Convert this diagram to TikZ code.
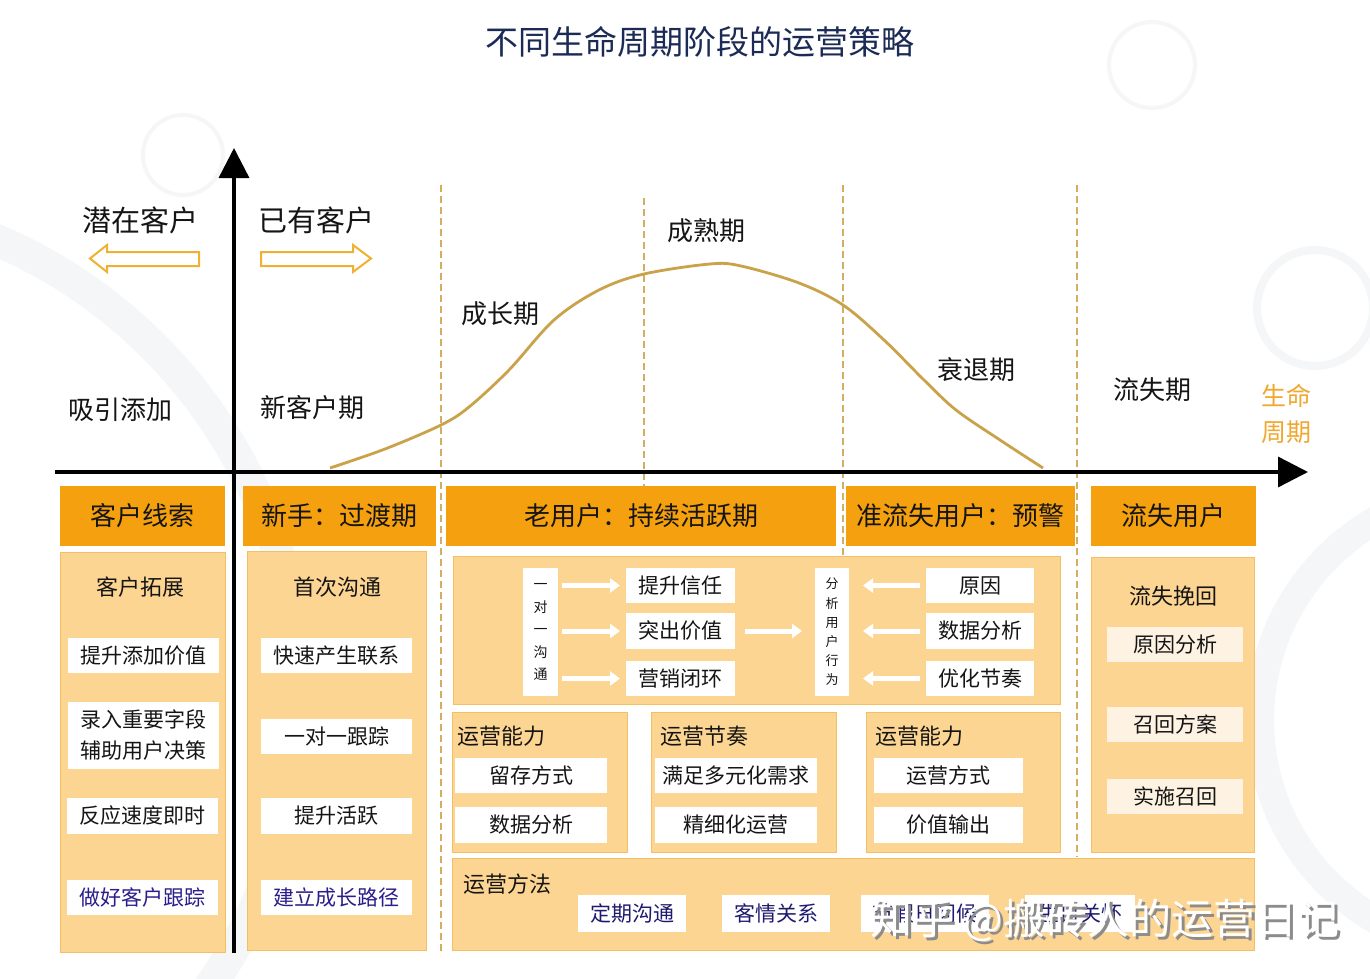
\documentclass[tikz,border=0pt]{standalone}
\usepackage{fontspec}
\setmainfont{Noto Sans CJK SC}
\usetikzlibrary{arrows.meta}
\definecolor{hdr}{HTML}{F4A00F}
\definecolor{bodyc}{HTML}{FDD592}
\definecolor{bodyline}{HTML}{F2C063}
\definecolor{gold}{HTML}{C9A24A}
\definecolor{dashc}{HTML}{D2AE62}
\definecolor{navy}{HTML}{1B2B55}
\definecolor{ink}{HTML}{2B1E8C}
\definecolor{inktwo}{HTML}{1E1A6E}
\definecolor{orangetxt}{HTML}{F0A830}
\definecolor{hollow}{HTML}{F0B030}
\definecolor{pale}{HTML}{FEF3E2}
\definecolor{ring}{HTML}{F4F6F8}
\definecolor{txt}{HTML}{151515}
\newcommand\rbox[7]{\node[#6, minimum width={(#4-#2)*0.5pt}, minimum height={(#5-#3)*0.5pt}] (#1) at ({(#2+#4)/2},{(#3+#5)/2}) {#7};}
\tikzset{
  hdrbox/.style={fill=hdr, inner sep=0pt, outer sep=0pt, text=txt, font=\fontsize{13}{15}\selectfont},
  bodybox/.style={fill=bodyc, draw=bodyline, line width=0.5pt, inner sep=0pt, outer sep=0pt},
  item/.style={fill=white, inner sep=0pt, outer sep=0pt, text=txt, align=center, font=\fontsize{10.5}{15.5}\selectfont},
  palebox/.style={fill=pale, inner sep=0pt, outer sep=0pt, text=txt, align=center, font=\fontsize{10.5}{15.5}\selectfont},
  lbl/.style={inner sep=0pt, text=txt, font=\fontsize{13}{15}\selectfont},
  biglbl/.style={inner sep=0pt, text=txt, font=\fontsize{14.5}{17}\selectfont},
  sublbl/.style={inner sep=0pt, text=txt, font=\fontsize{11}{13}\selectfont},
  warr/.style={draw=white, line width=2.5pt, -{Triangle[length=5pt,width=7pt]}},
  axis/.style={line width=1.7pt, -{Triangle[length=15pt,width=15pt]}},
  dline/.style={dashc, line width=0.6pt, dash pattern=on 3.5pt off 2pt},
  hol/.style={draw=hollow, line width=1pt, line join=miter}
}
\begin{document}
\begin{tikzpicture}[x=0.5pt,y=-0.5pt]
\useasboundingbox (0,0) rectangle (1370,979);
\fill[white] (0,0) rectangle (1370,979);
\begin{scope}
\clip (0,0) rectangle (1370,979);
\draw[ring, line width=16pt] (-200,700) circle (500);
\draw[ring, line width=2pt] (183,155) circle (40);
\draw[ring, line width=2pt] (1152,65) circle (43);
\draw[ring, line width=4pt] (1315,308) circle (58);
\draw[ring, line width=14pt] (1490,720) circle (230);
\end{scope}

% title
\node[inner sep=0pt, text=navy, font=\fontsize{16.5}{19}\selectfont] (title) at (700,42) {不同生命周期阶段的运营策略};

% dashed phase lines
\draw[dline] (441,185) -- (441,955);
\draw[dline] (644,198) -- (644,486);
\draw[dline] (843,185) -- (843,556);
\draw[dline] (1077,185) -- (1077,857);

% curve
\draw[gold, line width=1.4pt] plot[smooth, tension=0.55] coordinates {(330,468) (385,449) (441,425) (469,407) (509,370) (554,320) (599,290) (644,274) (710,264) (741,266) (799,283) (843,305) (884,340) (924,380) (956,410) (1000,440) (1043,468)};

% axes
\draw[axis] (234,953) -- (234,148);
\draw[axis] (55,472) -- (1308,472);

% top labels
\node[biglbl] (qz) at (140,220) {潜在客户};
\node[biglbl] (yy) at (316,220) {已有客户};
\draw[hol] (90,258.5) -- (107,245) -- (107,252) -- (199,252) -- (199,266) -- (107,266) -- (107,272) -- cycle;
\draw[hol] (371,258.5) -- (353,245) -- (353,252) -- (261,252) -- (261,266) -- (353,266) -- (353,272) -- cycle;
\node[lbl] (xy) at (120,410) {吸引添加};
\node[lbl] (xk) at (312,408) {新客户期};
\node[lbl] (cz) at (500,314) {成长期};
\node[lbl] (cs) at (706,231) {成熟期};
\node[lbl] (st) at (976,370) {衰退期};
\node[lbl] (ls) at (1152,390) {流失期};
\node[inner sep=0pt, text=orangetxt, align=center, font=\fontsize{12.5}{18}\selectfont] (smzq) at (1286,414) {生命\\周期};

% headers
\rbox{c1h}{60}{486}{225}{546}{hdrbox}{客户线索}
\rbox{c2h}{243}{486}{436}{546}{hdrbox}{新手：过渡期}
\rbox{c3h}{446}{486}{836}{546}{hdrbox}{老用户：持续活跃期}
\rbox{c4h}{846}{486}{1075}{546}{hdrbox}{准流失用户：预警}
\rbox{c5h}{1091}{486}{1256}{546}{hdrbox}{流失用户}

% column 1
\rbox{c1b}{60}{552}{225}{952}{bodybox}{}
\node[sublbl] (c1t) at (140,587) {客户拓展};
\rbox{c1i1}{68}{638}{219}{673}{item}{提升添加价值}
\rbox{c1i2}{68}{702}{219}{769}{item}{录入重要字段\\辅助用户决策}
\rbox{c1i3}{67}{798}{218}{834}{item}{反应速度即时}
\rbox{c1i4}{67}{880}{218}{915}{item,text=ink}{做好客户跟踪}

% column 2
\rbox{c2b}{247}{551}{426}{950}{bodybox}{}
\node[sublbl] (c2t) at (337,587) {首次沟通};
\rbox{c2i1}{261}{638}{412}{673}{item}{快速产生联系}
\rbox{c2i2}{261}{719}{412}{754}{item}{一对一跟踪}
\rbox{c2i3}{261}{798}{412}{834}{item}{提升活跃}
\rbox{c2i4}{261}{880}{412}{915}{item,text=ink}{建立成长路径}

% top panel of active users
\rbox{tp}{453}{556}{1060}{704}{bodybox}{}
\rbox{v1}{523}{568}{558}{696}{item,font=\fontsize{7}{11.25}\selectfont}{一\\对\\一\\沟\\通}
\rbox{t1}{626}{568}{735}{603}{item}{提升信任}
\rbox{t2}{626}{613}{735}{649}{item}{突出价值}
\rbox{t3}{626}{661}{735}{696}{item}{营销闭环}
\rbox{an}{815}{568}{849}{696}{item,font=\fontsize{6.5}{9.6}\selectfont}{分\\析\\用\\户\\行\\为}
\rbox{r1}{926}{568}{1034}{603}{item}{原因}
\rbox{r2}{926}{613}{1034}{649}{item}{数据分析}
\rbox{r3}{926}{661}{1034}{696}{item}{优化节奏}
\draw[warr] ([xshift=2pt]v1.east |- t1.west) -- ([xshift=-3pt]t1.west);
\draw[warr] ([xshift=2pt]v1.east |- t2.west) -- ([xshift=-3pt]t2.west);
\draw[warr] ([xshift=2pt]v1.east |- t3.west) -- ([xshift=-3pt]t3.west);
\draw[warr] ([xshift=5pt]t2.east) -- ([xshift=-6.5pt]an.west |- t2.east);
\draw[warr] ([xshift=-3pt]r1.west) -- ([xshift=7pt]an.east |- r1.west);
\draw[warr] ([xshift=-3pt]r2.west) -- ([xshift=7pt]an.east |- r2.west);
\draw[warr] ([xshift=-3pt]r3.west) -- ([xshift=7pt]an.east |- r3.west);

% three sub panels
\rbox{p1}{452}{712}{627}{852}{bodybox}{}
\rbox{p2}{651}{712}{836}{852}{bodybox}{}
\rbox{p3}{866}{712}{1060}{852}{bodybox}{}
\node[sublbl, anchor=west] (p1t) at (457,736) {运营能力};
\node[sublbl, anchor=west] (p2t) at (660,736) {运营节奏};
\node[sublbl, anchor=west] (p3t) at (875,736) {运营能力};
\rbox{p1a}{455}{758}{607}{793}{item}{留存方式}
\rbox{p1b}{455}{807}{607}{843}{item}{数据分析}
\rbox{p2a}{655}{758}{817}{793}{item}{满足多元化需求}
\rbox{p2b}{655}{807}{817}{843}{item}{精细化运营}
\rbox{p3a}{874}{758}{1023}{793}{item}{运营方式}
\rbox{p3b}{874}{807}{1023}{843}{item}{价值输出}

% bottom panel
\rbox{mp}{452}{858}{1254}{950}{bodybox}{}
\node[sublbl, anchor=west] (mpt) at (463,884) {运营方法};
\rbox{m1}{578}{895}{686}{932}{item,text=inktwo}{定期沟通}
\rbox{m2}{722}{895}{830}{932}{item,text=inktwo}{客情关系}
\rbox{m3}{861}{895}{989}{932}{item,text=inktwo}{节假日问候}
\rbox{m4}{1025}{895}{1135}{932}{item,text=inktwo}{生日关怀}

% lost users column
\rbox{c5b}{1091}{557}{1254}{852}{bodybox}{}
\node[sublbl] (c5t) at (1173,596) {流失挽回};
\rbox{c5i1}{1107}{627}{1243}{662}{palebox}{原因分析}
\rbox{c5i2}{1107}{707}{1243}{742}{palebox}{召回方案}
\rbox{c5i3}{1107}{779}{1243}{814}{palebox}{实施召回}

% watermark
\node[inner sep=0pt, text=black!45, font=\fontsize{21}{24}\selectfont] (wms) at (1108,923) {知乎 @搬砖人的运营日记};
\node[inner sep=0pt, text=white, font=\fontsize{21}{24}\selectfont] (wm) at (1105,920) {知乎 @搬砖人的运营日记};
\end{tikzpicture}
\end{document}
